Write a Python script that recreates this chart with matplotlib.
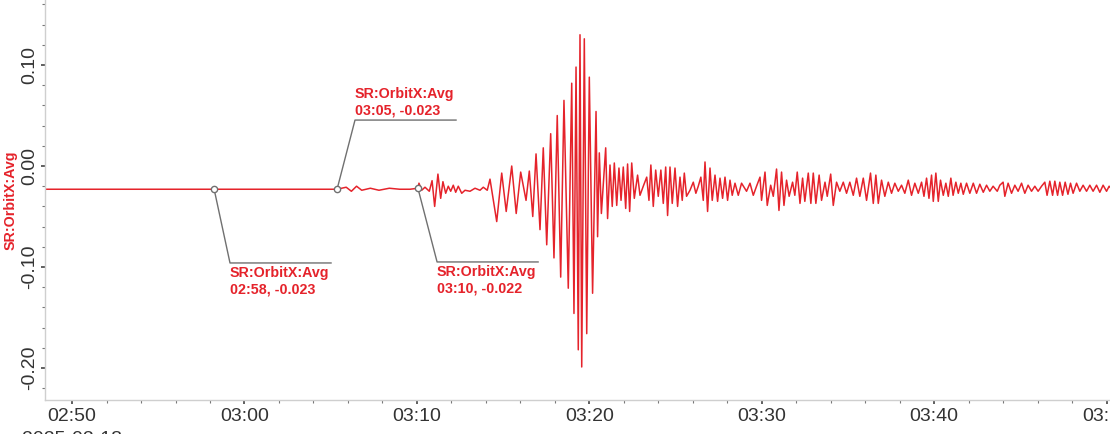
import matplotlib
matplotlib.use("Agg")
import matplotlib.pyplot as plt
import matplotlib.dates as mdates
import pandas as pd

plt.rcParams['font.family'] = ['Liberation Sans', 'DejaVu Sans']

# Start of the time axis
base_time = pd.Timestamp("2025-03-18 02:50:00")
date_label = "2025-03-18"
series_name = "SR:OrbitX:Avg"

# Waveform: minutes after 02:50 and orbit value
quiet_min = [-1.6, 2.0, 6.0, 8.24, 12.0, 15.37, 15.9, 16.2, 16.5, 16.8, 17.3, 17.8, 18.4, 19.0, 19.6, 20.06]
quiet_val = [-0.023, -0.023, -0.023, -0.023, -0.023, -0.023, -0.021, -0.025, -0.020, -0.024, -0.022, -0.024,
             -0.022, -0.023, -0.023, -0.022]

onset_min = [20.12, 20.28, 20.47, 20.72, 20.88, 21.03, 21.22, 21.38, 21.51, 21.67, 21.82, 21.96, 22.11, 22.25,
             22.40, 22.60, 22.79, 23.08, 23.37, 23.66, 23.85, 24.08, 24.24, 24.63, 24.92, 25.18, 25.50, 25.76,
             26.02, 26.33, 26.52]
onset_val = [-0.017, -0.024, -0.021, -0.025, -0.0145, -0.040, -0.008, -0.032, -0.0155, -0.027, -0.020, -0.025,
             -0.019, -0.026, -0.020, -0.027, -0.024, -0.025, -0.022, -0.024, -0.021, -0.024, -0.013, -0.055,
             -0.007, -0.045, 0.000, -0.047, -0.006, -0.034, -0.005]

burst_min = [26.72, 26.91, 27.14, 27.33, 27.53, 27.76, 27.95, 28.14, 28.34, 28.53, 28.78, 28.98, 29.11, 29.23,
             29.36, 29.46, 29.56, 29.71, 29.85, 30.00, 30.19, 30.39, 30.48, 30.58, 30.70, 30.95, 31.06]
burst_val = [-0.050, 0.012, -0.063, 0.018, -0.078, 0.032, -0.091, 0.050, -0.110, 0.065, -0.121, 0.082, -0.146,
             0.098, -0.182, 0.130, -0.199, 0.126, -0.166, 0.088, -0.126, 0.054, -0.070, 0.013, -0.047, 0.018,
             -0.052]

coda1_min = [31.20, 31.33, 31.45, 31.59, 31.72, 31.84, 31.97, 32.11, 32.22, 32.34, 32.46, 32.61, 32.80, 32.94,
             33.13, 33.33, 33.46, 33.57, 33.71, 33.85, 34.00, 34.15, 34.29, 34.43, 34.54, 34.68, 34.81, 34.97,
             35.12, 35.26, 35.39, 35.51, 35.64, 35.84, 36.03, 36.18, 36.32, 36.47, 36.61, 36.71, 36.86, 37.00,
             37.13, 37.29, 37.44, 37.58, 37.73, 37.87, 38.02, 38.16, 38.29, 38.45, 38.64, 38.83]
coda1_val = [0.001, -0.040, 0.003, -0.039, -0.002, -0.034, -0.001, -0.042, 0.002, -0.045, 0.003, -0.032, -0.009,
             -0.029, -0.020, -0.011, -0.034, 0.001, -0.040, -0.004, -0.030, -0.004, -0.037, -0.001, -0.049,
             -0.001, -0.037, -0.002, -0.040, -0.011, -0.034, -0.007, -0.030, -0.024, -0.016, -0.027, -0.020,
             -0.011, -0.034, 0.004, -0.045, -0.002, -0.034, -0.009, -0.035, -0.012, -0.032, -0.011, -0.034,
             -0.014, -0.029, -0.017, -0.029, -0.017]

coda2_min = [39.12, 39.32, 39.51, 39.70, 39.90, 39.99, 40.19, 40.32, 40.52, 40.67, 40.86, 41.00, 41.15, 41.29,
             41.44, 41.59, 41.79, 41.92, 42.06, 42.22, 42.37, 42.50, 42.70, 42.85, 42.99, 43.14, 43.33, 43.47,
             43.67, 43.80, 44.00, 44.15, 44.34, 44.53, 44.73, 44.92, 45.11, 45.31, 45.50, 45.69, 45.89, 46.08,
             46.31, 46.47, 46.62, 46.76, 46.95, 47.14, 47.34, 47.53, 47.72, 47.92, 48.11, 48.30, 48.50, 48.69,
             48.88, 49.08]
coda2_val = [-0.025, -0.017, -0.029, -0.020, -0.011, -0.034, -0.006, -0.039, -0.019, -0.030, -0.003, -0.044,
             -0.006, -0.039, -0.014, -0.030, -0.016, -0.029, -0.006, -0.037, -0.012, -0.035, -0.007, -0.037,
             -0.007, -0.037, -0.009, -0.034, -0.016, -0.030, -0.008, -0.039, -0.016, -0.025, -0.016, -0.027,
             -0.016, -0.029, -0.012, -0.030, -0.012, -0.034, -0.007, -0.037, -0.009, -0.037, -0.014, -0.030,
             -0.016, -0.027, -0.017, -0.025, -0.019, -0.027, -0.014, -0.029, -0.017, -0.027]

coda3_min = [49.27, 49.41, 49.56, 49.70, 49.85, 49.95, 50.10, 50.24, 50.37, 50.53, 50.68, 50.82, 50.97, 51.10,
             51.26, 51.40, 51.55, 51.69, 51.88, 52.07, 52.27, 52.46, 52.65, 52.85, 53.04, 53.23, 53.42, 53.66,
             53.81, 54.00, 54.10, 54.29, 54.49, 54.68, 54.87, 55.07, 55.26, 55.45, 55.65, 55.84, 56.03, 56.23,
             56.42, 56.55, 56.71, 56.87, 57.00, 57.16, 57.29, 57.45, 57.60, 57.76, 57.91, 58.06, 58.26, 58.45,
             58.64, 58.84, 59.03, 59.22, 59.42, 59.61, 59.80, 60.00, 60.15, 60.30]
coda3_val = [-0.016, -0.030, -0.012, -0.032, -0.009, -0.035, -0.007, -0.035, -0.014, -0.029, -0.017, -0.030,
             -0.012, -0.029, -0.016, -0.027, -0.017, -0.028, -0.017, -0.027, -0.017, -0.027, -0.018, -0.026,
             -0.019, -0.025, -0.020, -0.025, -0.019, -0.016, -0.030, -0.017, -0.027, -0.019, -0.025, -0.017,
             -0.027, -0.019, -0.025, -0.020, -0.025, -0.020, -0.016, -0.029, -0.015, -0.029, -0.015, -0.029,
             -0.016, -0.029, -0.016, -0.028, -0.017, -0.027, -0.017, -0.025, -0.019, -0.025, -0.019, -0.025,
             -0.019, -0.026, -0.019, -0.025, -0.020, -0.023]

# Cursor readouts shown on the chart
cursor_min = [8.24, 15.37, 20.06]
cursor_val = [-0.023, -0.023, -0.022]

wave_min = quiet_min + onset_min + burst_min + coda1_min + coda2_min + coda3_min
wave_val = quiet_val + onset_val + burst_val + coda1_val + coda2_val + coda3_val


def to_time(minutes):
    return mdates.date2num(base_time + pd.to_timedelta(minutes, unit="m"))


red = "#e5232b"
grey_text = "#333333"

fig = plt.figure(figsize=(11.1, 4.34), dpi=100)
ax = fig.add_axes([45 / 1110, 34 / 434, 1 - 45 / 1110, 1 - 34 / 434])

ax.plot(to_time(pd.Series(wave_min)), wave_val, color=red, lw=1.1)

ax.set_xlim(to_time(-1.57), to_time(60.2))
ax.set_ylim(-0.2317, 0.1644)

ax.xaxis.set_major_locator(mdates.MinuteLocator(byminute=range(0, 60, 10)))
ax.xaxis.set_minor_locator(mdates.MinuteLocator(byminute=range(0, 60, 2)))
ax.xaxis.set_major_formatter(mdates.DateFormatter("%H:%M"))
ax.set_yticks([-0.2, -0.1, 0.0, 0.1])
ax.set_yticks([v / 100 for v in range(-22, 17, 2)], minor=True)
ax.yaxis.set_major_formatter(matplotlib.ticker.FormatStrFormatter("%.2f"))

for side in ["top", "right"]:
    ax.spines[side].set_visible(False)
for side in ["left", "bottom"]:
    ax.spines[side].set_color("#cfcfcf")
    ax.spines[side].set_linewidth(1.0)

ax.tick_params(which="major", length=3, width=1.2, color="#444444", labelsize=14, labelcolor=grey_text)
ax.tick_params(which="minor", length=2.2, width=0.8, color="#777777")
ax.tick_params(axis="x", which="major", pad=3)
ax.tick_params(axis="y", which="major", pad=2)
for lab in ax.get_yticklabels():
    lab.set_rotation(90)
    lab.set_va("center")

ax.set_ylabel(series_name, color=red, fontsize=10.3, fontweight="bold")
ax.yaxis.set_label_coords(-27 / 1065, 0.5)

# elbow offsets for each readout: (minutes, value, text above line)
elbows = [(0.92, -0.073, False), (1.04, 0.0685, True), (1.11, -0.073, False)]
line_len = 5.86
for (tm, val, (dm, dv, above)) in zip(cursor_min, cursor_val, elbows):
    t0 = to_time(tm)
    t1 = to_time(tm + dm)
    t2 = to_time(tm + dm + line_len)
    y1 = val + dv
    ax.plot([t0, t1, t2], [val, y1, y1], color="#707070", lw=1.0, zorder=3)
    ax.plot([t0], [val], marker="o", ms=4.5, mfc="white", mec="#707070", mew=1.0, zorder=4)
    stamp = (base_time + pd.to_timedelta(tm, unit="m")).strftime("%H:%M")
    label = f"{series_name}\n{stamp}, {val:.3f}"
    if above:
        ax.annotate(label, (t1, y1), xytext=(0, 2), textcoords="offset points", ha="left", va="bottom",
                    color=red, fontsize=10.3, fontweight="bold", linespacing=1.25)
    else:
        ax.annotate(label, (t1, y1), xytext=(0, -2), textcoords="offset points", ha="left", va="top",
                    color=red, fontsize=10.3, fontweight="bold", linespacing=1.25)

fig.text(22 / 1110, 1 - 431 / 434, date_label, ha="left", va="top", fontsize=14, color=grey_text)

fig.savefig("out.png", dpi=100)
